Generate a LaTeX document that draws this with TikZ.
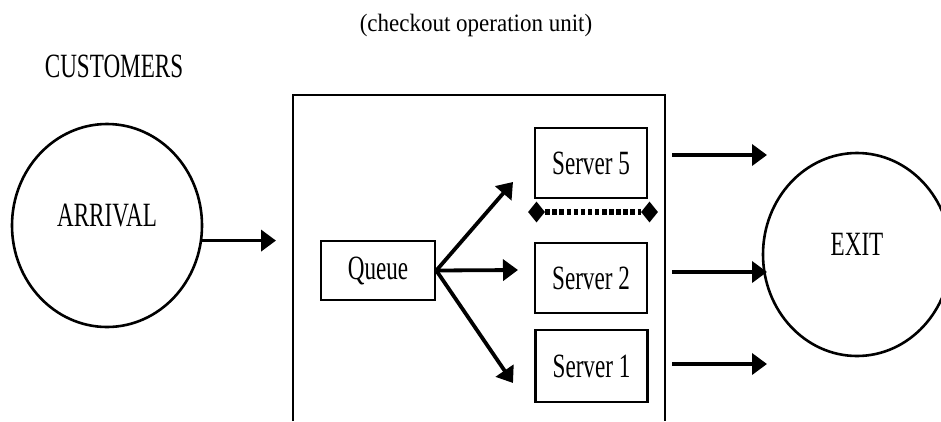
\documentclass[tikz,border=0pt]{standalone}
\usepackage{fontspec}
\newfontfamily\labfont{Liberation Serif}[FakeStretch=0.68]
\newfontfamily\titfont{Liberation Serif}[FakeStretch=0.92]
\usetikzlibrary{shapes,arrows.meta,positioning,calc}
\tikzset{
  lab/.style={font=\labfont\fontsize{34}{36}\selectfont},
  srv/.style={draw, line width=2.6pt, minimum width=112pt, minimum height=70pt, inner sep=0pt, lab},
  blob/.style={draw, ellipse, line width=2.6pt, minimum width=190pt, minimum height=203pt, inner sep=0pt, text depth=20pt, lab},
  flow/.style={line width=3.8pt, -{Triangle[length=15pt,width=21pt]}},
  tip/.style={diamond, fill=black, inner sep=0pt, minimum width=17pt, minimum height=21pt},
  bar/.style={line width=6pt, dash pattern=on 4.5pt off 2.6pt},
}
\begin{document}
\begin{tikzpicture}[x=1pt, y=-1pt]
    \useasboundingbox (0,0) rectangle (941,421);

    % Labels
    \node[font=\titfont\fontsize{25}{28}\selectfont] (title) at (476,25) {(checkout operation unit)};
    \node[lab] (cust) at (114,66) {CUSTOMERS};

    % Checkout unit
    \draw[line width=2.6pt] (293,421) -- (293,95) -- (665,95) -- (665,421);

    % Nodes
    \node[blob] (arrival) at (107,225.5) {ARRIVAL};
    \node[blob, minimum width=188pt] (exit) at (857,254.5) {EXIT};
    \node[srv, minimum width=114pt, minimum height=59pt] (queue) at (378,270.5) {Queue};
    \node[srv] (s5) at (591,163) {Server 5};
    \node[srv] (s2) at (591,278) {Server 2};
    \node[srv, minimum height=72pt] (s1) at (591.5,366) {Server 1};

    % Arrival into the unit
    \coordinate (inlet) at (276,240);
    \draw[flow] (arrival.-9) -- (arrival.-9 -| inlet);

    % Queue to servers
    \coordinate (t5) at (513,182);
    \coordinate (t2) at (518,270);
    \coordinate (t1) at (513,383);
    \draw[flow] (queue.east) -- (t5);
    \draw[flow] (queue.east) -- (t2);
    \draw[flow] (queue.east) -- (t1);

    % More servers in between
    \node[tip] (dl) at (536.5,212) {};
    \node[tip] (dr) at (649.5,212) {};
    \draw[bar] (dl) -- (dr);

    % Out to exit
    \foreach \s/\y in {s5/155,s2/272,s1/364} {
        \coordinate (out\s) at (672,\y);
        \draw[flow] (out\s) -- ++(95,0);
    }
\end{tikzpicture}
\end{document}
